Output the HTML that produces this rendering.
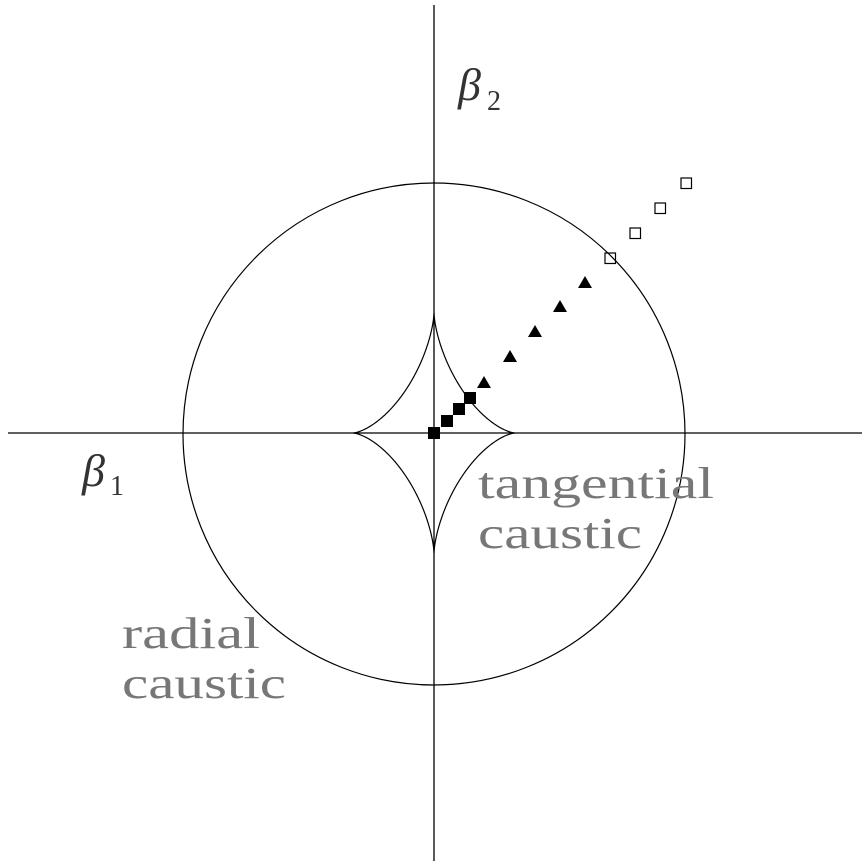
<!DOCTYPE html>
<html><head><style>
html,body{margin:0;padding:0;background:#fff;}
svg{display:block}
text{font-family:"Liberation Serif","DejaVu Serif",serif;}
</style></head><body>
<svg width="866" height="866" viewBox="0 0 866 866" xmlns="http://www.w3.org/2000/svg">
<line x1="434" y1="5" x2="434" y2="861" stroke="#000" stroke-width="1.3"/>
<line x1="8" y1="433" x2="862" y2="433" stroke="#000" stroke-width="1.3"/>
<circle cx="434" cy="434" r="251" fill="none" stroke="#000" stroke-width="1.2"/>
<path id="ast" fill="none" stroke="#000" stroke-width="1.2"/>
<g fill="#000">
<rect x="428" y="427" width="12" height="12"/>
<rect x="441" y="415" width="12" height="12"/>
<rect x="453" y="403" width="12" height="12"/>
<rect x="464" y="392" width="12" height="12"/>
<polygon points="484,376 477,388 491,388"/>
<polygon points="510,350 503,362 517,362"/>
<polygon points="535,325 528,337 542,337"/>
<polygon points="560,300 553,312 567,312"/>
<polygon points="585,276 578,288 592,288"/>
</g>
<g fill="none" stroke="#000" stroke-width="1.2">
<rect x="605" y="253" width="10.5" height="10.5"/>
<rect x="630" y="228" width="10.5" height="10.5"/>
<rect x="655" y="203" width="10.5" height="10.5"/>
<rect x="681" y="178" width="10.5" height="10.5"/>
</g>
<g fill="#777" font-size="44">
<text x="478" y="498" textLength="236" lengthAdjust="spacingAndGlyphs">tangential</text>
<text x="478" y="548" textLength="164" lengthAdjust="spacingAndGlyphs">caustic</text>
<text x="122" y="648" textLength="138" lengthAdjust="spacingAndGlyphs">radial</text>
<text x="122" y="698" textLength="164" lengthAdjust="spacingAndGlyphs">caustic</text>
</g>
<g fill="#333">
<text x="458" y="100" font-size="46" font-style="italic">β</text>
<text x="487" y="110" font-size="28">2</text>
<text x="82" y="486" font-size="46" font-style="italic">β</text>
<text x="110" y="495" font-size="28">1</text>
</g>
</svg>
<script>
var p="",cx=434,cy=433,a=81,b=120;
for(var i=0;i<=720;i++){var t=i/720*2*Math.PI;var x=cx+a*Math.pow(Math.cos(t),3),y=cy-b*Math.pow(Math.sin(t),3);p+=(i?"L":"M")+x.toFixed(2)+","+y.toFixed(2);}
document.getElementById("ast").setAttribute("d",p+"Z");
</script>
</body></html>
